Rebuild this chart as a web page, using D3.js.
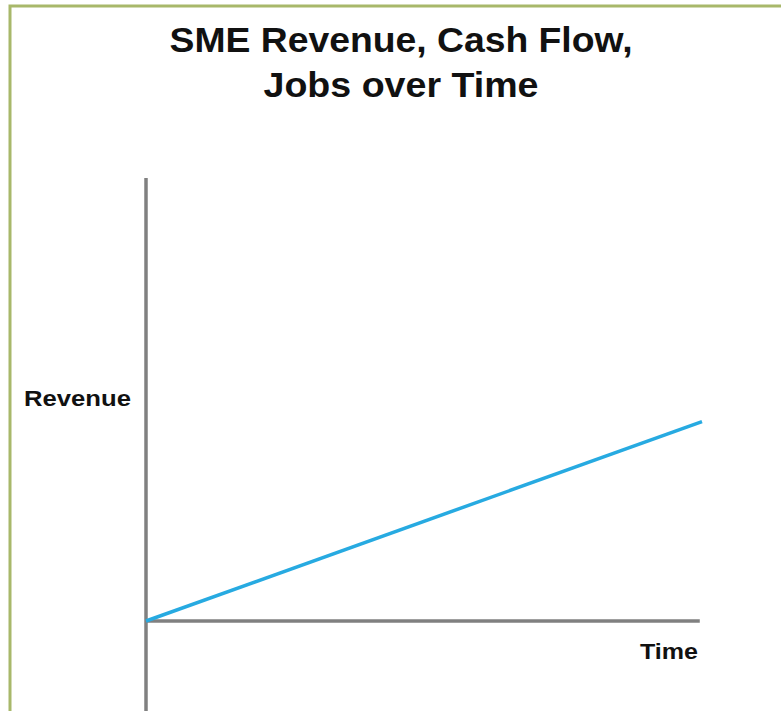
<!DOCTYPE html>
<html><head><meta charset="utf-8">
<script src="https://cdn.jsdelivr.net/npm/d3@7"></script>
<style>
html,body{margin:0;padding:0;background:#fff;}
svg{display:block;}
</style></head>
<body>
<script>
const titleLines = ["SME Revenue, Cash Flow,", "Jobs over Time"];
const xLabel = "Time";
const yLabel = "Revenue";
const time = [0, 100];
const revenue = [0, 45];

const W = 781, H = 711;
const svg = d3.select("body").append("svg").attr("width", W).attr("height", H);
svg.append("rect").attr("width", W).attr("height", H).attr("fill", "#fff");

// frame (olive border, top and left visible)
svg.append("path").attr("d", "M10,800 L10,6 L800,6")
  .attr("fill", "none").attr("stroke", "#a8b86a").attr("stroke-width", 3);

const x = d3.scaleLinear().domain([0, 100]).range([146, 702]);
const y = d3.scaleLinear().domain([0, 100]).range([621, 178]);

const titleFont = "'Liberation Sans',Arial,sans-serif";
const titleWidths = [463, 275];
svg.selectAll("text.title").data(titleLines).enter().append("text")
  .attr("class", "title")
  .attr("x", 401).attr("y", (d, i) => 52 + i * 45)
  .attr("text-anchor", "middle")
  .attr("font-family", titleFont).attr("font-weight", "bold")
  .attr("font-size", 35).attr("fill", "#111")
  .attr("textLength", (d, i) => titleWidths[i]).attr("lengthAdjust", "spacingAndGlyphs")
  .text(d => d);

// axes
const yAxis = d3.axisLeft(y).tickValues([]).tickSizeOuter(0);
const gy = svg.append("g").attr("transform", `translate(${x(0)},0)`).call(yAxis);
gy.select(".domain").attr("d", `M0,${y(100)}V${H + 5}`)
  .attr("stroke", "#808080").attr("stroke-width", 3.5);

const xAxis = d3.axisBottom(x).tickValues([]).tickSizeOuter(0);
const gx = svg.append("g").attr("transform", `translate(0,${y(0)})`).call(xAxis);
gx.select(".domain").attr("d", `M${x(0)},0H${x(99.6)}`)
  .attr("stroke", "#808080").attr("stroke-width", 3.5);

// line
const pts = time.map((t, i) => [t, revenue[i]]);
svg.append("path").datum(pts)
  .attr("d", d3.line().x(d => x(d[0])).y(d => y(d[1])))
  .attr("fill", "none").attr("stroke", "#27aae1").attr("stroke-width", 3.5);

const lblFont = "'Liberation Sans',Arial,sans-serif";
svg.append("text").attr("x", 24).attr("y", 406)
  .attr("font-family", lblFont).attr("font-weight", "bold").attr("font-size", 22)
  .attr("textLength", 107).attr("lengthAdjust", "spacingAndGlyphs")
  .attr("fill", "#111").text(yLabel);
svg.append("text").attr("x", 640).attr("y", 659)
  .attr("font-family", lblFont).attr("font-weight", "bold").attr("font-size", 22)
  .attr("textLength", 58).attr("lengthAdjust", "spacingAndGlyphs")
  .attr("fill", "#111").text(xLabel);
</script>
</body></html>
